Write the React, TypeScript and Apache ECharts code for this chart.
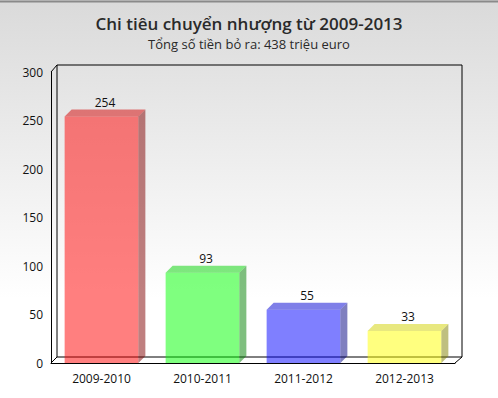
import React, { useEffect, useRef } from "react";
import * as echarts from "echarts";

const categories = ["2009-2010", "2010-2011", "2011-2012", "2012-2013"];
const values = [254, 93, 55, 33];
const frontColors = ["rgba(255,0,0,0.5)", "rgba(0,255,0,0.5)", "rgba(0,0,255,0.5)", "rgba(255,255,0,0.5)"];
const sideColors = ["rgba(128,0,0,0.5)", "rgba(0,128,0,0.5)", "rgba(0,0,128,0.5)", "rgba(128,128,0,0.5)"];
const topColors = ["rgba(210,0,0,0.5)", "rgba(0,210,0,0.5)", "rgba(0,0,210,0.5)", "rgba(210,210,0,0.5)"];
const yTicks = [0, 50, 100, 150, 200, 250, 300];
const titleText = "Chi tiêu chuyển nhượng từ 2009-2013";
const subText = "Tổng số tiền bỏ ra: 438 triệu euro";

export default function App() {
  const ref = useRef<HTMLDivElement>(null);
  useEffect(() => {
    if (!ref.current) return;
    const chart = echarts.init(ref.current, null, { renderer: "svg" });
    const D = 7;
    const font = "'Open Sans', 'Noto Sans', sans-serif";
    chart.setOption({
      animation: false,
      backgroundColor: {
        type: "linear", x: 0, y: 0, x2: 0, y2: 1,
        colorStops: [
          { offset: 0, color: "#dadada" },
          { offset: 0.75, color: "#ffffff" },
          { offset: 1, color: "#ffffff" },
        ],
      },
      title: {
        text: titleText,
        subtext: subText,
        left: "center",
        top: 10,
        itemGap: 5,
        textStyle: { fontFamily: font, fontSize: 17, fontWeight: 600, color: "#2a2a2a" },
        subtextStyle: { fontFamily: font, fontSize: 13, color: "#2a2a2a" },
      },
      grid: [
        { left: 51, right: 43, top: 72, bottom: 35, show: false },
        { left: 57, right: 36, top: 65, bottom: 41, show: true, borderColor: "#000", borderWidth: 1, backgroundColor: "transparent", z: 0 },
      ],
      xAxis: [
        {
          type: "category", data: categories, gridIndex: 0,
          axisLine: { show: true, lineStyle: { color: "#000", width: 1 } },
          axisTick: { show: false },
          axisLabel: { fontFamily: font, fontSize: 12, color: "#111", margin: 9 },
          splitLine: { show: false },
        },
        { type: "category", data: categories, gridIndex: 1, show: false },
      ],
      yAxis: [
        {
          type: "value", min: yTicks[0], max: yTicks[yTicks.length - 1], interval: 50, gridIndex: 0,
          axisLine: { show: true, lineStyle: { color: "#000", width: 1 } },
          axisTick: { show: false },
          axisLabel: { fontFamily: font, fontSize: 12, color: "#111", margin: 8 },
          splitLine: { show: false },
        },
        { type: "value", min: 0, max: 300, gridIndex: 1, show: false },
      ],
      graphic: [
        { type: "line", shape: { x1: 0, y1: 1.5, x2: 498, y2: 1.5 }, style: { stroke: "#8a8a8a", lineWidth: 2 } },
        { type: "line", shape: { x1: 51, y1: 72, x2: 57, y2: 65 }, style: { stroke: "#000", lineWidth: 1 } },
        { type: "line", shape: { x1: 51, y1: 363, x2: 57, y2: 357 }, style: { stroke: "#000", lineWidth: 1 } },
        { type: "line", shape: { x1: 455, y1: 363, x2: 462, y2: 357 }, style: { stroke: "#000", lineWidth: 1 } },
      ],
      series: [
        {
          type: "custom",
          xAxisIndex: 0,
          yAxisIndex: 0,
          z: 5,
          data: values.map((v, i) => [i, v]),
          renderItem: (params: any, api: any) => {
            const i = api.value(0);
            const v = api.value(1);
            const top = api.coord([i, v]);
            const base = api.coord([i, 0]);
            const bw = api.size([1, 0])[0] * 0.73;
            const x0 = top[0] - bw / 2;
            const x1 = top[0] + bw / 2;
            const yt = top[1];
            const yb = base[1];
            return {
              type: "group",
              children: [
                { type: "rect", shape: { x: x0, y: yt, width: bw, height: yb - yt }, style: { fill: frontColors[i] } },
                { type: "polygon", shape: { points: [[x1, yt], [x1 + D, yt - D], [x1 + D, yb - D], [x1, yb]] }, style: { fill: sideColors[i] } },
                { type: "polygon", shape: { points: [[x0, yt], [x0 + D, yt - D], [x1 + D, yt - D], [x1, yt]] }, style: { fill: topColors[i] } },
                {
                  type: "text",
                  style: {
                    text: String(v), x: top[0] + D / 2, y: yt - D - 1,
                    align: "center", verticalAlign: "bottom",
                    fill: "#111", fontSize: 12, fontFamily: font,
                  },
                },
              ],
            };
          },
        },
      ],
    });
    return () => chart.dispose();
  }, []);
  return <div ref={ref} style={{ position: "fixed", left: 0, top: 0, width: 498, height: 398 }} />;
}
